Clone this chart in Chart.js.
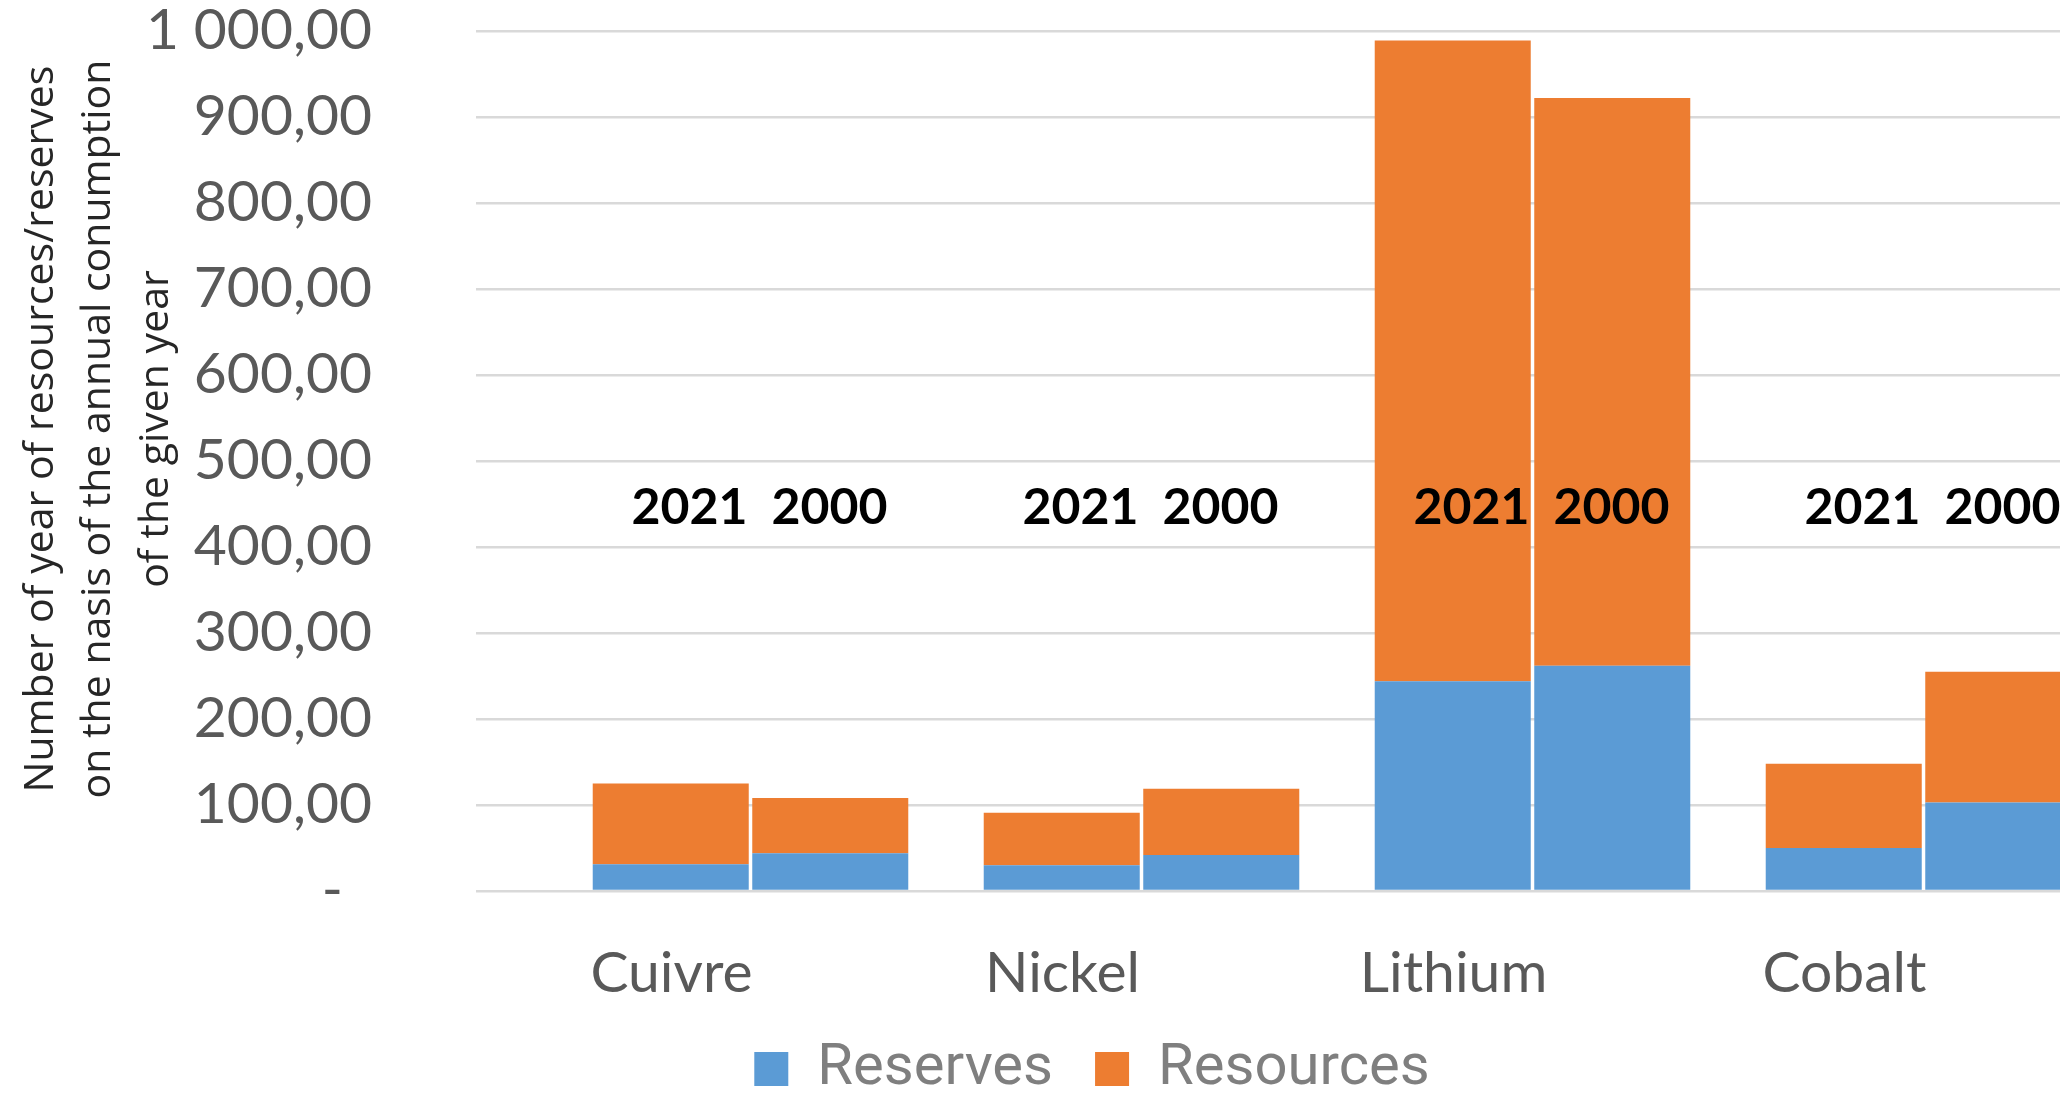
<!DOCTYPE html>
<html>
<head>
<meta charset="utf-8">
<title>Years of resources and reserves</title>
<script src="https://cdn.jsdelivr.net/npm/chart.js@4.4.1/dist/chart.umd.min.js"></script>
<style>
  html, body { margin: 0; padding: 0; overflow: hidden; background: #fff; }
  canvas { display: block; }
</style>
</head>
<body>
<canvas id="chart" width="2184" height="1108"></canvas>
<script>
// Metals on the x axis
const metals = ["Cuivre", "Nickel", "Lithium", "Cobalt"];

// Years of reserves / resources (resources = part stacked above reserves)
const reserves2021 = [31, 30, 244, 50];
const resources2021 = [94, 61, 745, 98];
const reserves2000 = [44, 42, 262, 103];
const resources2000 = [64, 77, 660, 152];

// Year captions written above each pair of bars
const yearLabels = ["2021", "2000"];
const yearLabelLevel = 446;

// Y axis range
const yMin = 0;
const yMax = 1000;
const yStep = 100;

const BLUE = "#5B9BD5";
const ORANGE = "#ED7D31";

Chart.defaults.font.family = "Lato";

// "1 000,00" style numbers, "-" for zero
function formatTick(v) {
    if (v === 0) return "-  ";
    const parts = v.toFixed(2).split(".");
    return parts[0].replace(/\B(?=(\d{3})+(?!\d))/g, " ") + "," + parts[1];
}

// Draws "2021  2000" over every category
const yearLabelPlugin = {
    id: "yearLabels",
    afterDatasetsDraw(chart) {
        const ctx = chart.ctx;
        const xScale = chart.scales.x;
        const yPos = chart.scales.y.getPixelForValue(yearLabelLevel);
        ctx.save();
        ctx.font = "bold 50px Lato";
        ctx.fillStyle = "#000000";
        ctx.textBaseline = "middle";
        metals.forEach((m, i) => {
            const cx = xScale.getPixelForValue(i);
            ctx.textAlign = "right";
            ctx.fillText(yearLabels[0], cx - 3, yPos);
            ctx.textAlign = "left";
            ctx.fillText(yearLabels[1], cx + 21, yPos);
        });
        ctx.restore();
    }
};

const ctx = document.getElementById("chart").getContext("2d");

new Chart(ctx, {
    type: "bar",
    data: {
        labels: metals,
        datasets: [
            { label: "Reserves", data: reserves2021, stack: "y2021", backgroundColor: BLUE },
            { label: "Resources", data: resources2021, stack: "y2021", backgroundColor: ORANGE },
            { label: "Reserves", data: reserves2000, stack: "y2000", backgroundColor: BLUE },
            { label: "Resources", data: resources2000, stack: "y2000", backgroundColor: ORANGE }
        ]
    },
    options: {
        responsive: false,
        animation: false,
        categoryPercentage: 0.816,
        barPercentage: 0.978,
        borderWidth: 0,
        layout: {
            padding: { top: 31, left: 65, right: 65, bottom: 0 }
        },
        plugins: {
            tooltip: { enabled: false },
            legend: {
                position: "bottom",
                labels: {
                    filter: (item) => item.datasetIndex < 2,
                    boxWidth: 34,
                    boxHeight: 34,
                    padding: 42,
                    color: "#7F7F7F",
                    font: { family: "Roboto", size: 58 }
                }
            }
        },
        scales: {
            x: {
                stacked: true,
                grid: { display: false, drawTicks: false },
                border: { display: false },
                ticks: {
                    color: "#595959",
                    font: { size: 57, lineHeight: 0.8 },
                    padding: 60,
                    labelOffset: -79
                },
                afterFit(scale) {
                    scale.height = 107;
                }
            },
            y: {
                stacked: true,
                min: yMin,
                max: yMax,
                grid: {
                    color: "#D9D9D9",
                    lineWidth: 2.5,
                    drawTicks: true,
                    tickLength: 79,
                    tickColor: "#D9D9D9"
                },
                border: { display: false },
                ticks: {
                    stepSize: yStep,
                    color: "#595959",
                    font: { size: 57, lineHeight: 1 },
                    padding: 104,
                    callback: (v) => formatTick(v)
                },
                title: {
                    display: true,
                    text: [
                        "      Number of year of resources/reserves",
                        "      on the nasis of the annual conumption",
                        "      of the given year"
                    ],
                    color: "#262626",
                    font: { family: "Open Sans", size: 41, lineHeight: 1.41 },
                    padding: { top: -53, bottom: 0 }
                },
                afterFit(scale) {
                    // fixed axis width; keep the big label gap out of the top/bottom padding
                    scale.width = 490;
                    scale.paddingTop = 28;
                    scale.paddingBottom = 28;
                }
            }
        }
    },
    plugins: [yearLabelPlugin]
});
</script>
</body>
</html>
